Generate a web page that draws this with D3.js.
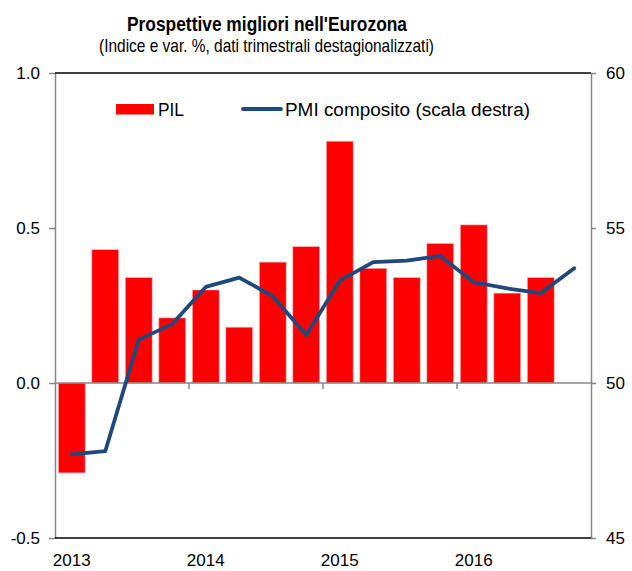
<!DOCTYPE html>
<html><head><meta charset="utf-8">
<script src="https://cdn.jsdelivr.net/npm/d3@7"></script>
<style>
html,body{margin:0;padding:0;background:#fff;}
svg{display:block;font-family:"Liberation Sans",Arial,sans-serif;}
</style></head>
<body>
<svg id="chart" width="632" height="571"></svg>
<script>
const quarters = ["2013Q1","2013Q2","2013Q3","2013Q4","2014Q1","2014Q2","2014Q3","2014Q4",
                  "2015Q1","2015Q2","2015Q3","2015Q4","2016Q1","2016Q2","2016Q3","2016Q4"];
const pil = [-0.29, 0.43, 0.34, 0.21, 0.30, 0.18, 0.39, 0.44, 0.78, 0.37, 0.34, 0.45, 0.51, 0.29, 0.34];
const pmi = [47.7, 47.8, 51.4, 51.9, 53.1, 53.4, 52.8, 51.55, 53.3, 53.9, 53.95, 54.1, 53.25, 53.05, 52.9, 53.7];
const leftTicks = [-0.5, 0.0, 0.5, 1.0];
const rightTicks = [45, 50, 55, 60];
const years = ["2013","2014","2015","2016"];
const title = "Prospettive migliori nell'Eurozona";
const subtitle = "(Indice e var. %, dati trimestrali destagionalizzati)";
const legendLabels = ["PIL", "PMI composito (scala destra)"];

const svg = d3.select("#chart");
const L = 55, R = 591, T = 73, B = 538;
const grey = "#868686";

const x = d3.scaleBand().domain(quarters).range([L, R]).paddingInner(0.2).paddingOuter(0.1);
const yL = d3.scaleLinear().domain([-0.5, 1.0]).range([B, T]);
const yR = d3.scaleLinear().domain([45, 60]).range([B, T]);

// Title
svg.append("text").attr("x", 267).attr("y", 31).attr("text-anchor", "middle")
  .attr("font-size", 21).attr("font-weight", "bold")
  .attr("textLength", 280).attr("lengthAdjust", "spacingAndGlyphs").text(title);
svg.append("text").attr("x", 266.5).attr("y", 52).attr("text-anchor", "middle")
  .attr("font-size", 18.5)
  .attr("textLength", 335).attr("lengthAdjust", "spacingAndGlyphs").text(subtitle);

// Bars
svg.append("g").selectAll("rect").data(pil).join("rect")
  .attr("x", (d, i) => x(quarters[i]))
  .attr("width", x.bandwidth())
  .attr("y", d => yL(Math.max(0, d)))
  .attr("height", d => Math.abs(yL(d) - yL(0)))
  .attr("fill", "#FF0000")
  .attr("stroke", "#ffb3b3").attr("stroke-width", 0.6);

// Left axis
const axL = d3.axisLeft(yL).tickValues(leftTicks).tickFormat(d => d.toFixed(1))
  .tickSize(6).tickSizeOuter(0).tickPadding(9);
const gL = svg.append("g").attr("transform", `translate(${L},0)`).call(axL);
gL.select(".domain").attr("stroke", grey).attr("stroke-width", 1.5);
gL.selectAll(".tick line").attr("stroke", grey).attr("stroke-width", 1.5);
gL.selectAll(".tick text").attr("font-size", 17).attr("fill", "#000").attr("font-family", "Liberation Sans, Arial, sans-serif");

// Right axis
const axR = d3.axisRight(yR).tickValues(rightTicks).tickFormat(d3.format("d"))
  .tickSize(5).tickSizeOuter(0).tickPadding(10);
const gR = svg.append("g").attr("transform", `translate(${R},0)`).call(axR);
gR.select(".domain").attr("stroke", grey).attr("stroke-width", 1.5);
gR.selectAll(".tick line").attr("stroke", grey).attr("stroke-width", 1.5);
gR.selectAll(".tick text").attr("font-size", 17).attr("fill", "#000").attr("font-family", "Liberation Sans, Arial, sans-serif");

// Top & bottom frame lines
svg.append("line").attr("x1", L).attr("x2", R).attr("y1", T).attr("y2", T).attr("stroke", "#000").attr("stroke-width", 1.3);
svg.append("line").attr("x1", L).attr("x2", R).attr("y1", B).attr("y2", B).attr("stroke", "#000").attr("stroke-width", 1.5);

// Zero line with year ticks
svg.append("line").attr("x1", L).attr("x2", R).attr("y1", yL(0)).attr("y2", yL(0))
  .attr("stroke", grey).attr("stroke-width", 1.5);
const half = x.step() * x.paddingInner() / 2;
svg.append("g").selectAll("line").data(years.slice(1)).join("line")
  .attr("x1", d => x(d + "Q1") - half).attr("x2", d => x(d + "Q1") - half)
  .attr("y1", yL(0)).attr("y2", yL(0) + 6)
  .attr("stroke", grey).attr("stroke-width", 1.5);

// Year labels
svg.append("g").selectAll("text").data(years).join("text")
  .attr("x", d => x(d + "Q1") + x.bandwidth() / 2)
  .attr("y", 566).attr("text-anchor", "middle").attr("font-size", 17).text(d => d);

// PMI line
const line = d3.line().x((d, i) => x(quarters[i]) + x.bandwidth() / 2).y(d => yR(d));
svg.append("path").datum(pmi).attr("d", line)
  .attr("fill", "none").attr("stroke", "#1F497D").attr("stroke-width", 3.8)
  .attr("stroke-linejoin", "round").attr("stroke-linecap", "round");

// Legend
svg.append("rect").attr("x", 116).attr("y", 104).attr("width", 38).attr("height", 10.5).attr("fill", "#FF0000");
svg.append("text").attr("x", 158).attr("y", 116).attr("font-size", 17.5)
  .attr("textLength", 26).attr("lengthAdjust", "spacingAndGlyphs").text(legendLabels[0]);
svg.append("line").attr("x1", 243).attr("x2", 281).attr("y1", 109).attr("y2", 109)
  .attr("stroke", "#1F497D").attr("stroke-width", 3.8).attr("stroke-linecap", "round");
svg.append("text").attr("x", 285).attr("y", 116).attr("font-size", 18)
  .attr("textLength", 245).attr("lengthAdjust", "spacingAndGlyphs").text(legendLabels[1]);
</script>
</body></html>
